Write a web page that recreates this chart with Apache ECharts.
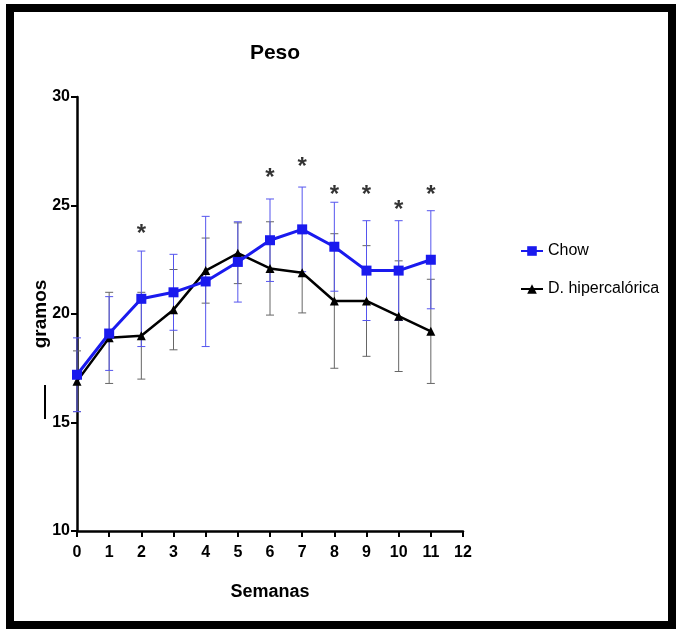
<!DOCTYPE html>
<html>
<head>
<meta charset="utf-8">
<script src="https://cdn.jsdelivr.net/npm/echarts@6/dist/echarts.min.js"></script>
<style>html,body{margin:0;padding:0;background:#fff;}#c{width:676px;height:629px;}</style>
</head>
<body>
<div id="c"></div>
<script>
const weeks = [0,1,2,3,4,5,6,7,8,9,10,11];
const chowMean = [17.2,19.1,20.7,21.0,21.5,22.4,23.4,23.9,23.1,22.0,22.0,22.5];
const chowSD   = [1.7,1.7,2.2,1.75,3.0,1.85,1.9,1.95,2.05,2.3,2.3,2.26];
const hiperMean = [16.9,18.9,19.0,20.2,22.0,22.8,22.1,21.9,20.6,20.6,19.9,19.2];
const hiperSD   = [1.4,2.1,2.0,1.85,1.5,1.4,2.15,1.85,3.1,2.55,2.55,2.4];
const starWeeks = [2,6,7,8,9,10,11];
const starValues = [23.9,26.5,27.0,25.7,25.7,25.0,25.7];
const yTicks = [10,15,20,25,30];
const xTicks = [0,1,2,3,4,5,6,7,8,9,10,11,12];

const FONT = "'Liberation Sans Narrow','Arial Narrow','Liberation Sans',Arial,sans-serif";

function errData(mean, sd){ return weeks.map((w,i)=>[w, mean[i]-sd[i], mean[i]+sd[i]]); }
function errRender(color){
  return function(params, api){
    const x = api.value(0);
    const lo = api.coord([x, api.value(1)]);
    const hi = api.coord([x, api.value(2)]);
    const w = 4;
    const st = {stroke: color, lineWidth: 1};
    return {type:'group', children:[
      {type:'line', shape:{x1:lo[0],y1:lo[1],x2:hi[0],y2:hi[1]}, style:st},
      {type:'line', shape:{x1:hi[0]-w,y1:hi[1],x2:hi[0]+w,y2:hi[1]}, style:st},
      {type:'line', shape:{x1:lo[0]-w,y1:lo[1],x2:lo[0]+w,y2:lo[1]}, style:st}
    ]};
  };
}

const chart = echarts.init(document.getElementById('c'));
chart.setOption({
  animation:false,
  backgroundColor:'#fff',
  title:{text:'Peso', left:270, top:38, textAlign:'center',
    textStyle:{fontFamily:FONT, fontSize:21, fontWeight:'bold', color:'#000'}},
  grid:{left:77, right:213, top:97, bottom:98, containLabel:false},
  legend:{orient:'vertical', left:515, top:238, itemGap:22, itemWidth:22, itemHeight:12,
    textStyle:{fontFamily:FONT, fontSize:16, color:'#000'},
    data:['Chow','D. hipercalórica']},
  xAxis:{type:'value', min:0, max:12, interval:1,
    name:'Semanas', nameLocation:'middle', nameGap:52,
    nameTextStyle:{fontFamily:FONT, fontSize:18, fontWeight:'bold', color:'#000'},
    axisLine:{lineStyle:{color:'#000', width:2.5}},
    axisTick:{length:6, lineStyle:{color:'#000', width:2}},
    axisLabel:{fontFamily:FONT, fontSize:16, fontWeight:'bold', color:'#000', margin:14},
    splitLine:{show:false}},
  yAxis:{type:'value', min:10, max:30, interval:5,
    name:'gramos', nameLocation:'middle', nameGap:27, nameMoveOverlap:false,
    nameTextStyle:{fontFamily:FONT, fontSize:19, fontWeight:'bold', color:'#000'},
    axisLine:{show:true, lineStyle:{color:'#000', width:2.5}},
    axisTick:{show:true, length:6, lineStyle:{color:'#000', width:2}},
    axisLabel:{fontFamily:FONT, fontSize:16, fontWeight:'bold', color:'#000', margin:7,
      formatter: v => yTicks.includes(v) ? String(v) : ''},
    splitLine:{show:false}},
  series:[
    {type:'custom', name:'errH', renderItem:errRender('#666'), data:errData(hiperMean,hiperSD),
      encode:{x:0,y:[1,2]}, z:1, silent:true},
    {type:'custom', name:'errC', renderItem:errRender('#5555ee'), data:errData(chowMean,chowSD),
      encode:{x:0,y:[1,2]}, z:1, silent:true},
    {type:'line', name:'D. hipercalórica', data:weeks.map((w,i)=>[w,hiperMean[i]]),
      symbol:'triangle', symbolSize:9, color:'#000',
      lineStyle:{color:'#000', width:2.5}, itemStyle:{color:'#000'}, z:3},
    {type:'line', name:'Chow', data:weeks.map((w,i)=>[w,chowMean[i]]),
      symbol:'rect', symbolSize:10, color:'#1a1aee',
      lineStyle:{color:'#1a1aee', width:3}, itemStyle:{color:'#1a1aee'}, z:4},
    {type:'scatter', name:'stars', data:starWeeks.map((w,i)=>[w,starValues[i]]),
      symbolSize:0, silent:true,
      label:{show:true, position:'inside', formatter:'*', offset:[0,5],
        fontFamily:FONT, fontSize:24, fontWeight:'bold', color:'#000'}}
  ],
  graphic:[
    {type:'rect', shape:{x:10, y:8, width:662, height:617},
      style:{fill:'none', stroke:'#000', lineWidth:8}},
    {type:'line', shape:{x1:45, y1:385, x2:45, y2:419},
      style:{stroke:'#000', lineWidth:2}}
  ]
});
</script>
</body>
</html>
